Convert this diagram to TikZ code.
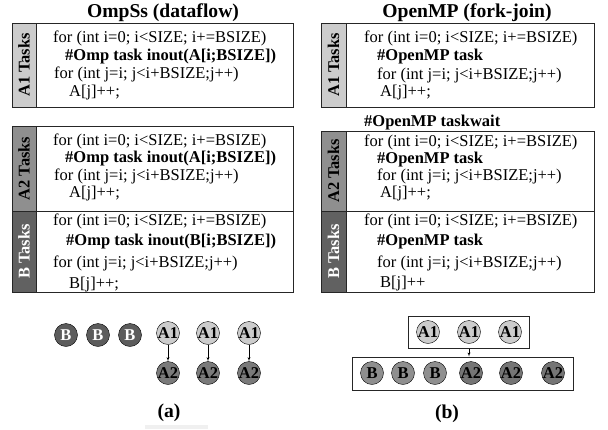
\documentclass[tikz,border=0pt]{standalone}
\usepackage{fontspec}
\setmainfont{Liberation Serif}
\usetikzlibrary{arrows}
\usetikzlibrary{positioning}
\definecolor{lightgr}{gray}{0.80}
\definecolor{midgr}{gray}{0.56}
\definecolor{darkgr}{gray}{0.38}
\definecolor{bcirc}{gray}{0.36}
\definecolor{acirc}{gray}{0.48}
\definecolor{bcircb}{gray}{0.56}
\definecolor{acircb}{gray}{0.46}
\tikzset{code/.style = {anchor=base west, inner sep=0, font=\fontsize{16.5}{18}\selectfont}}
\tikzset{pragma/.style = {code, font=\fontsize{16.5}{18}\selectfont\bfseries}}
\tikzset{side/.style = {rotate=90, inner sep=0, font=\fontsize{16.4}{18}\selectfont\bfseries}}
\tikzset{title/.style = {anchor=base, inner sep=0, font=\fontsize{19.6}{22}\selectfont\bfseries}}
\tikzset{task/.style = {draw, circle, inner sep=0, minimum size=23, font=\fontsize{16.5}{16.5}\selectfont\bfseries}}
\tikzset{frame/.style = {draw=black!85, line width=1pt}}
\tikzset{dep/.style = {-latex', thin}}

\begin{document}
\begin{tikzpicture}[x=1pt, y=-1pt]
  \useasboundingbox (0,0) rectangle (608,429);

  % dataflow side
  \node[title] (tl) at (163,17) {OmpSs (dataflow)};
  \fill[lightgr] (12,23) rectangle (36,107);
  \fill[midgr] (12,126) rectangle (36,211);
  \fill[darkgr] (12,211) rectangle (36,292);
  \draw[frame] (12,23) rectangle (293,107);
  \draw[frame] (12,126) rectangle (293,292);
  \draw[frame] (36,23) -- (36,107);
  \draw[frame] (36,126) -- (36,292);
  \draw[frame] (12,211) -- (293,211);
  \node[side] (sl1) at (24,65) {A1 Tasks};
  \node[side] (sl2) at (24,168.5) {A2 Tasks};
  \node[side, text=white] (sl3) at (24,251.5) {B Tasks};

  \node[code] (la1) at (53,42) {for (int i=0; i<SIZE; i+=BSIZE)};
  \node[pragma] (la2) at (65,60) {\#Omp task inout(A[i;BSIZE])};
  \node[code] (la3) at (54,78) {for (int j=i; j<i+BSIZE;j++)};
  \node[code] (la4) at (69,96) {A[j]++;};

  \node[code] (lb1) at (53,145) {for (int i=0; i<SIZE; i+=BSIZE)};
  \node[pragma] (lb2) at (65,162) {\#Omp task inout(A[i;BSIZE])};
  \node[code] (lb3) at (54,180) {for (int j=i; j<i+BSIZE;j++)};
  \node[code] (lb4) at (69,197) {A[j]++;};

  \node[code] (lc1) at (53,225) {for (int i=0; i<SIZE; i+=BSIZE)};
  \node[pragma] (lc2) at (66,245) {\#Omp task inout(B[i;BSIZE])};
  \node[code] (lc3) at (53,267) {for (int j=i; j<i+BSIZE;j++)};
  \node[code] (lc4) at (69,288) {B[j]++;};

  % fork-join side
  \node[title] (tr) at (467,17) {OpenMP (fork-join)};
  \fill[lightgr] (321,23) rectangle (346,107);
  \fill[midgr] (321,131) rectangle (346,211);
  \fill[darkgr] (321,211) rectangle (346,292);
  \draw[frame] (321,23) rectangle (594,107);
  \draw[frame] (321,131) rectangle (594,292);
  \draw[frame] (346,23) -- (346,107);
  \draw[frame] (346,131) -- (346,292);
  \draw[frame] (321,211) -- (594,211);
  \node[side] (sr1) at (333.5,65) {A1 Tasks};
  \node[side] (sr2) at (333.5,171) {A2 Tasks};
  \node[side, text=white] (sr3) at (333.5,251.5) {B Tasks};

  \node[code] (ra1) at (364,42) {for (int i=0; i<SIZE; i+=BSIZE)};
  \node[pragma] (ra2) at (377,60) {\#OpenMP task};
  \node[code] (ra3) at (377,79) {for (int j=i; j<i+BSIZE;j++)};
  \node[code] (ra4) at (380,96) {A[j]++;};

  \node[pragma] (wait) at (364,126) {\#OpenMP taskwait};

  \node[code] (rb1) at (364,146) {for (int i=0; i<SIZE; i+=BSIZE)};
  \node[pragma] (rb2) at (377,163) {\#OpenMP task};
  \node[code] (rb3) at (377,180) {for (int j=i; j<i+BSIZE;j++)};
  \node[code] (rb4) at (380,197) {A[j]++;};

  \node[code] (rc1) at (364,225) {for (int i=0; i<SIZE; i+=BSIZE)};
  \node[pragma] (rc2) at (377,245) {\#OpenMP task};
  \node[code] (rc3) at (377,267) {for (int j=i; j<i+BSIZE;j++)};
  \node[code] (rc4) at (380,287) {B[j]++};

  % task graphs
  \foreach \x/\n in {66/1, 98/2, 130/3}
    \node[task, fill=bcirc, text=white] (bl\n) at (\x,335) {B};
  \foreach \x/\n in {168/1, 208/2, 249/3} {
    \node[task, fill=lightgr] (al\n) at (\x,333) {A1};
    \node[task, fill=acirc] (cl\n) at (\x,373) {A2};
    \draw[dep] (al\n) -- (cl\n);
  }
  \node[title] (capa) at (169,417) {(a)};
  \fill[gray!12] (145,425) rectangle (208,429);

  \node[frame, minimum width=121, minimum height=32, inner sep=0] (grpa) at (468.5,332) {};
  \node[frame, minimum width=221, minimum height=33, inner sep=0] (grpb) at (462.5,373.5) {};
  \foreach \x/\n in {428/1, 469/2, 510/3}
    \node[task, fill=lightgr] (ar\n) at (\x,332) {A1};
  \foreach \x/\n in {372/1, 403/2, 435/3}
    \node[task, fill=bcircb] (br\n) at (\x,373) {B};
  \foreach \x/\n in {471/1, 511/2, 553/3}
    \node[task, fill=acircb] (cr\n) at (\x,373) {A2};
  \draw[dep] (grpa.south -| ar2) -- (grpb.north -| ar2);
  \node[title] (capb) at (447,418) {(b)};
\end{tikzpicture}
\end{document}
